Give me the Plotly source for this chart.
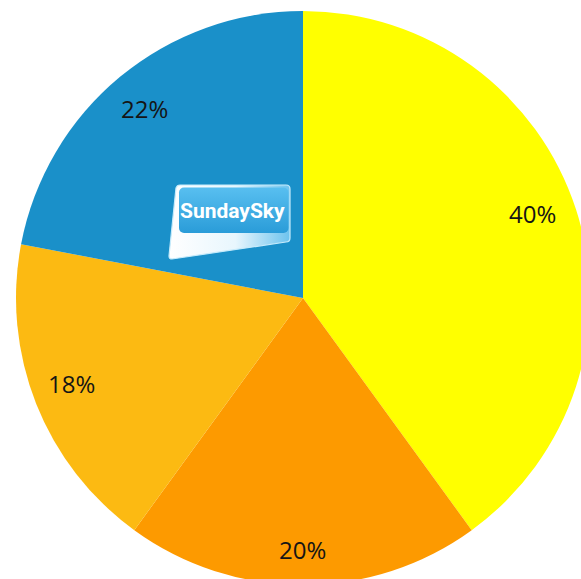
import math
import base64
import plotly.graph_objects as go

# Share of each segment, clockwise from 12 o'clock
segments = ["Yellow", "Orange", "Light orange", "Blue"]
shares = [40, 20, 18, 22]
slice_colors = ["#FFFF00", "#FD9A00", "#FCBA12", "#1A90C9"]

W, H = 600, 592
CX, CY, R = 303, 298, 287   # pie centre and radius in page pixels
label_radius = [0.84, 0.88, 0.86, 0.86]   # fraction of R for each label
label_nudge = [(0, 10), (-1, 1), (-2, 5), (-1, -1)]   # pixel (dx, dy-up) tweaks

fig = go.Figure()

fig.add_trace(go.Pie(
    labels=segments,
    values=shares,
    sort=False,
    direction="clockwise",
    rotation=0,
    marker=dict(colors=slice_colors, line=dict(width=0)),
    textinfo="none",
    hoverinfo="label+percent",
    showlegend=False,
    domain=dict(x=[(CX - R) / W, (CX + R) / W],
                y=[(H - CY - R) / H, (H - CY + R) / H]),
))

# Percentage labels placed near the rim at each slice's mid-angle
total = sum(shares)
acc = 0
for s, fr, (dx, dy) in zip(shares, label_radius, label_nudge):
    mid = (acc + s / 2) / total * 2 * math.pi
    acc += s
    rr = fr * R
    fig.add_annotation(
        x=(CX + rr * math.sin(mid)) / W, y=1 - (CY - rr * math.cos(mid)) / H,
        xref="paper", yref="paper", xanchor="center", yanchor="middle",
        xshift=dx, yshift=dy,
        text=f"{round(s / total * 100)}%", showarrow=False,
        font=dict(family="Open Sans, Lato, sans-serif", size=24, color="#151515"),
    )

# SundaySky badge background (frame, gradient panel, white swoosh)
badge_svg = """<svg xmlns="http://www.w3.org/2000/svg" width="130" height="85" viewBox="0 0 130 85">
<defs>
<linearGradient id="p" x1="0" y1="0" x2="0" y2="1">
<stop offset="0" stop-color="#58bff0"/><stop offset="1" stop-color="#2a9cd8"/></linearGradient>
<linearGradient id="w" x1="0" y1="0" x2="1" y2="0">
<stop offset="0" stop-color="#ffffff"/><stop offset="0.55" stop-color="#e8f6fd"/>
<stop offset="1" stop-color="#6cc3ee"/></linearGradient>
</defs>
<path d="M15,5 L121,5 Q125,5 125,9 L125,58 Q125,62 121,62 L7,79 Q4,79 4,76 L11,8 Q12,5 15,5 Z"
 fill="url(#w)" stroke="#c6ebfb" stroke-width="1.2"/>
<rect x="14" y="7.5" width="109.5" height="45.5" rx="5" fill="url(#p)"/>
</svg>"""
badge_uri = "data:image/svg+xml;base64," + base64.b64encode(badge_svg.encode()).decode()
fig.add_layout_image(
    source=badge_uri, xref="paper", yref="paper",
    x=165 / W, y=1 - 180 / H, sizex=130 / W, sizey=85 / H,
    xanchor="left", yanchor="top", sizing="stretch", layer="above",
)
fig.add_annotation(
    x=232 / W, y=1 - 211 / H, xref="paper", yref="paper",
    xanchor="center", yanchor="middle",
    text="<b>SundaySky</b>", showarrow=False,
    font=dict(family="Liberation Sans Narrow, Roboto, Arial, sans-serif",
              size=21, color="#ffffff"),
)

fig.update_layout(
    width=W, height=H,
    margin=dict(l=0, r=0, t=0, b=0),
    paper_bgcolor="#ffffff",
)

fig.write_html(
    "out.html",
    post_script=("document.documentElement.style.overflow='hidden';"
                 "document.body.style.overflow='hidden';"
                 "document.body.style.margin='0';"),
)
